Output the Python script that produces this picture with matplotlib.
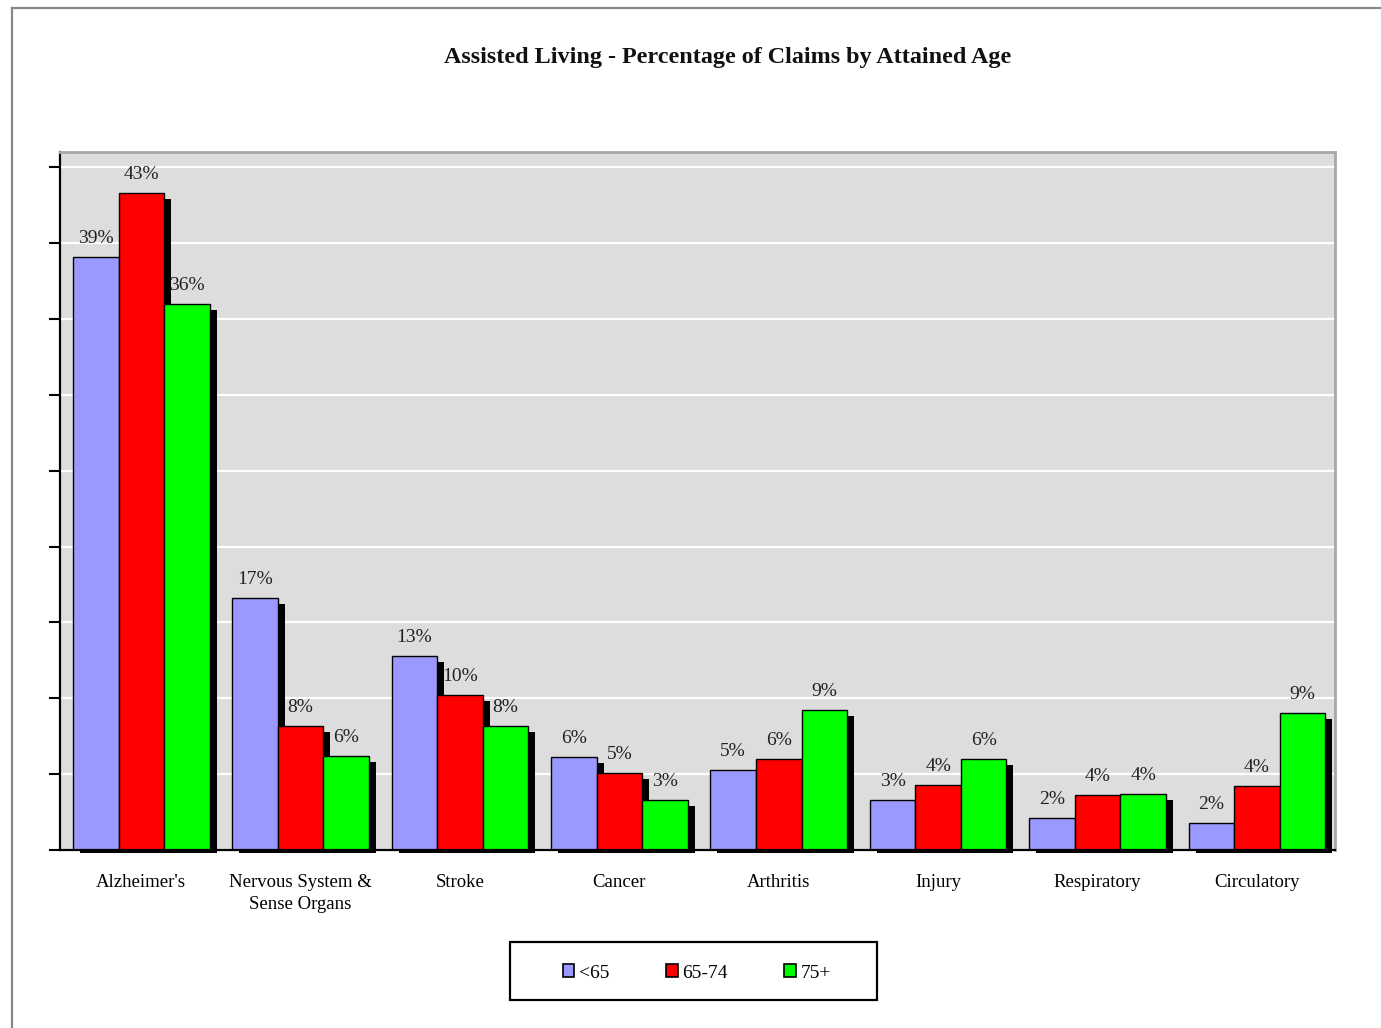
import matplotlib
matplotlib.use("Agg")
import matplotlib.pyplot as plt
import matplotlib.transforms as mtransforms
from matplotlib.patches import Patch, Rectangle
from matplotlib.lines import Line2D
import numpy as np

plt.rcParams['font.family'] = ['Liberation Serif', 'DejaVu Serif']

categories = ["Alzheimer's", "Nervous System &\nSense Organs", "Stroke", "Cancer",
              "Arthritis", "Injury", "Respiratory", "Circulatory"]
series_names = ["<65", "65-74", "75+"]
under_65 = [39.1, 16.6, 12.8, 6.1, 5.3, 3.3, 2.1, 1.8]
age_65_74 = [43.3, 8.2, 10.2, 5.1, 6.0, 4.3, 3.6, 4.2]
age_75_plus = [36.0, 6.2, 8.2, 3.3, 9.2, 6.0, 3.7, 9.0]
series_values = [under_65, age_65_74, age_75_plus]
colors = ["#9999FF", "#FF0000", "#00FF00"]
y_ticks = [0, 5, 10, 15, 20, 25, 30, 35, 40, 45]

W, H = 1381, 1028
fig = plt.figure(figsize=(W / 100, H / 100), dpi=100)
ax = fig.add_axes([60 / W, 1 - 850 / H, (1335 - 60) / W, (850 - 152) / H])
ax.set_facecolor("#DDDDDD")

x = np.arange(len(categories))
bw = 0.2857
offsets = [-bw, 0.0, bw]

shadow_tr = ax.transData + mtransforms.ScaledTranslation(7 / 100, -3 / 100, fig.dpi_scale_trans)

for vals, off, col in zip(series_values, offsets, colors):
    v = np.array(vals)
    ax.bar(x + off, v - 0.2, width=bw, bottom=0, color="black", linewidth=0,
           transform=shadow_tr, clip_on=False, zorder=1.5)
    ax.bar(x + off, v, width=bw, color=col, edgecolor="black", linewidth=1.0, zorder=2)
    for xi, vi in zip(x + off, v):
        ax.annotate(f"{vi:.0f}%", xy=(xi, vi), xytext=(0, 14), textcoords="offset pixels",
                    ha="center", va="baseline", fontsize=14, color="#222222", zorder=1)

ax.set_xlim(-0.51, len(categories) - 0.51)
ax.set_ylim(0, 46)
ax.set_yticks(y_ticks)
ax.set_yticklabels([])
ax.yaxis.grid(True, color="white", linewidth=1.6)
ax.set_axisbelow(True)
ax.tick_params(axis="y", direction="out", length=8, width=1.5, color="black")
ax.set_xticks(x)
ax.set_xticklabels(categories, fontsize=13.5, linespacing=1.4)
ax.tick_params(axis="x", length=0, pad=17)

for s in ["left", "bottom"]:
    ax.spines[s].set_color("black")
    ax.spines[s].set_linewidth(1.6)
    ax.spines[s].set_zorder(2.5)
for s in ["top", "right"]:
    ax.spines[s].set_color("#A8A8A8")
    ax.spines[s].set_linewidth(2.0)

fig.text(728 / W, 1 - 57 / H, "Assisted Living - Percentage of Claims by Attained Age",
         ha="center", va="center", fontsize=17.4, fontweight="bold", color="#111111")

handles = [Patch(facecolor=c, edgecolor="black", linewidth=1.2) for c in colors]
fig.legend(handles, series_names, loc="center", bbox_to_anchor=(697 / W, 1 - 973 / H),
           ncol=3, frameon=False, fontsize=14, handlelength=0.6, handleheight=0.6,
           handletextpad=0.25, columnspacing=2.9)

fig.patches.append(Rectangle((510 / W, 1 - 1000 / H), (877 - 510) / W, 58 / H,
                             transform=fig.transFigure, facecolor="none",
                             edgecolor="black", linewidth=1.6))

fig.lines.append(Line2D([12 / W, 1.0], [1 - 8 / H, 1 - 8 / H], transform=fig.transFigure,
                        color="#888888", linewidth=1.6))
fig.lines.append(Line2D([12 / W, 12 / W], [0, 1 - 8 / H], transform=fig.transFigure,
                        color="#888888", linewidth=1.6))

fig.savefig("out.png", dpi=100)
